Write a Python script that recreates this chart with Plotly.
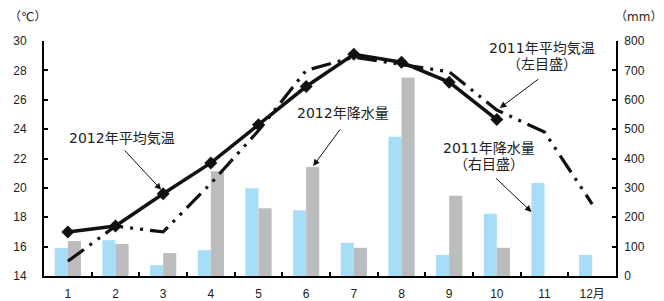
import plotly.graph_objects as go

months = ["1", "2", "3", "4", "5", "6", "7", "8", "9", "10", "11", "12月"]
precip_2011 = [95, 122, 37, 88, 299, 224, 113, 474, 72, 212, 317, 72]
precip_2012 = [119, 109, 78, 357, 231, 371, 96, 676, 273, 96, None, None]
temp_2011 = [15.0, 17.4, 17.0, 20.3, 23.9, 28.0, 28.9, 28.4, 27.9, 25.3, 23.8, 18.9]
temp_2012 = [17.0, 17.4, 19.6, 21.7, 24.3, 26.9, 29.1, 28.55, 27.2, 24.65, None, None]

W, H = 664, 301
L, R, T, B = 44, 48, 41, 25
PW, PH = W - L - R, H - T - B


def px(x):
    return (x - L) / PW


def py(y):
    return (H - B - y) / PH


FONT = "Liberation Sans, Noto Sans CJK JP, sans-serif"
AFONT = "DejaVu Sans, Noto Sans CJK JP, sans-serif"

fig = go.Figure()
fig.add_trace(go.Bar(x=months, y=precip_2011, name="2011年降水量", marker_color="#A8DDF7",
                     marker_line_width=0, yaxis="y"))
fig.add_trace(go.Bar(x=months, y=precip_2012, name="2012年降水量", marker_color="#BBBCBE",
                     marker_line_width=0, yaxis="y"))
fig.add_trace(go.Scatter(x=months, y=temp_2011, name="2011年平均気温", mode="lines",
                         line=dict(color="#111111", width=3.2, dash="20px,7px,3px,7px,3px,7px"),
                         yaxis="y2"))
fig.add_trace(go.Scatter(x=months, y=temp_2012, name="2012年平均気温", mode="lines+markers",
                         line=dict(color="#111111", width=3.5),
                         marker=dict(symbol="diamond", size=10, color="#111111"),
                         yaxis="y2"))

axis_common = dict(showline=True, linecolor="black", linewidth=1.8, ticks="inside",
                   tickcolor="black", tickwidth=1.5, showgrid=False, zeroline=False,
                   automargin=False,
                   tickfont=dict(family=FONT, size=12, color="#222222"))

fig.update_layout(
    width=W, height=H,
    margin=dict(l=L, r=R, t=T, b=B, pad=0),
    paper_bgcolor="white", plot_bgcolor="white",
    showlegend=False,
    barmode="group", bargap=0.45, bargroupgap=0,
    xaxis=dict(type="category", range=[-0.5, 11.5], tickson="boundaries", ticklen=4,
               ticklabelstandoff=6, **axis_common),
    yaxis=dict(side="right", range=[0, 800], dtick=100, ticklen=4, anchor="x",
               ticklabelstandoff=4, **axis_common),
    yaxis2=dict(side="left", overlaying="y", range=[14, 30], dtick=2, ticklen=4, anchor="x",
                ticklabelstandoff=13, **axis_common),
)

annots = []
# axis units
annots.append(dict(text="（℃）", x=px(27), y=py(17), xref="paper", yref="paper",
                   xanchor="center", yanchor="middle",
                   showarrow=False, font=dict(family=AFONT, size=12, color="#222")))
annots.append(dict(text="（mm）", x=px(638), y=py(17), xref="paper", yref="paper",
                   xanchor="center", yanchor="middle",
                   showarrow=False, font=dict(family=AFONT, size=12, color="#222")))

labels = [
    ("2012年平均気温", 122, 138),
    ("2012年降水量", 343, 113),
    ("2011年平均気温", 542, 48),
    ("（左目盛）", 542, 64),
    ("2011年降水量", 489, 148),
    ("（右目盛）", 489, 164),
]
for t, x, y in labels:
    annots.append(dict(text=t, x=px(x), y=py(y), xref="paper", yref="paper",
                       xanchor="center", yanchor="middle",
                       showarrow=False, font=dict(family=AFONT, size=14, color="#222")))

arrow_style = dict(text="", showarrow=True, arrowhead=2, arrowsize=1.3, arrowwidth=1,
                   arrowcolor="#111", axref="pixel", ayref="pixel", standoff=0, startstandoff=0)
# 2012 temperature -> March point
annots.append(dict(x=2, y=temp_2012[2], xref="x", yref="y2", xshift=-2, yshift=4,
                   ax=-38, ay=-41, **arrow_style))
# 2012 precipitation -> June grey bar
annots.append(dict(x=5, y=precip_2012[5], xref="x", yref="y", xshift=7, yshift=1,
                   ax=28, ay=-38, **arrow_style))
# 2011 temperature -> October line
annots.append(dict(x=9, y=temp_2011[9], xref="x", yref="y2", xshift=3, yshift=2,
                   ax=40, ay=-30, **arrow_style))
# 2011 precipitation -> November blue bar
annots.append(dict(x=10, y=precip_2011[10], xref="x", yref="y", xshift=-13, yshift=-29,
                   ax=-37, ay=-35, **arrow_style))

fig.update_layout(annotations=annots)
fig.write_html("out.html", config={"displayModeBar": False},
               post_script="document.body.style.margin='0px';")
